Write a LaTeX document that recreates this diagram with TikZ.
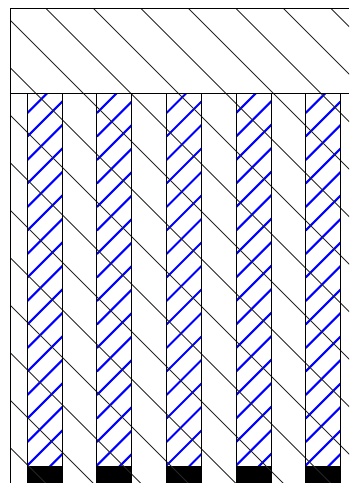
\documentclass[tikz,border=0pt]{standalone}
\usepackage{tikz}
\tikzset{
    wallhatch/.style={black!85, line width=0.8pt},
    stripehatch/.style={blue, line width=2.1pt},
}

\begin{document}
\begin{tikzpicture}[x=1pt,y=-1pt]
\useasboundingbox (0,0) rectangle (349,483);
% blue strips
\foreach \x in {27.3,96.9,166.5,236.1,305.7} {
  \begin{scope}
    \clip (\x,93) rectangle (\x+35,483);
    \foreach \k in {0,...,17}
      \draw[stripehatch] (\x,113+23.5*\k) -- ++(60,-60);
  \end{scope}
  \fill (\x,466) rectangle (\x+35,483);
}
% black hatching over everything
\begin{scope}
  \clip (10.5,8) rectangle (349,483);
  \foreach \k in {-11,...,6}
    \draw[wallhatch] (37.5+47.5*\k,0) -- ++(500,500);
\end{scope}
\foreach \x in {27.3,96.9,166.5,236.1,305.7} {
  \draw[line width=0.9pt] (\x,93) -- (\x,483);
  \draw[line width=0.9pt] (\x+35,93) -- (\x+35,483);
}
\draw[line width=0.9pt] (349,8) -- (10.5,8) -- (10.5,483);
\draw[line width=0.9pt] (10.5,93) -- (349,93);
\end{tikzpicture}
\end{document}
